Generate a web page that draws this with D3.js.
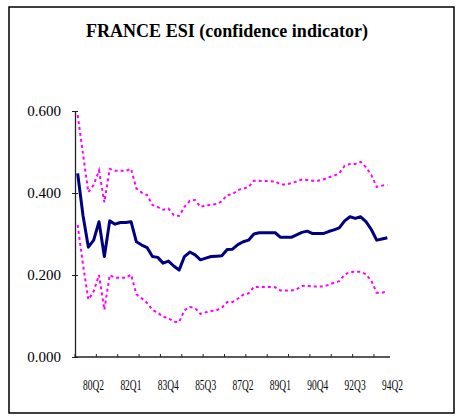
<!DOCTYPE html>
<html lang="en">
<head>
  <meta charset="UTF-8">
  <script src="https://d3js.org/d3.v7.min.js"></script>
  <title>FRANCE ESI (confidence indicator)</title>
  <style>
    body { margin: 0; background: #fff; }
    text { font-family: "Liberation Serif", "Times New Roman", serif; fill: #000; }
    .esi { fill: none; stroke: #000080; stroke-width: 3px; stroke-linejoin: round; }
    .band { fill: none; stroke: #ff00ff; stroke-width: 2px; stroke-dasharray: 3,3; }
  </style>
</head>
<body>
  <svg></svg>
  <script>
    const WIDTH = 456
    const HEIGHT = 418

    // quarters 80Q1 .. 94Q3
    const quarters = [
      '80Q1','80Q2','80Q3','80Q4','81Q1','81Q2','81Q3','81Q4','82Q1','82Q2','82Q3','82Q4',
      '83Q1','83Q2','83Q3','83Q4','84Q1','84Q2','84Q3','84Q4','85Q1','85Q2','85Q3','85Q4',
      '86Q1','86Q2','86Q3','86Q4','87Q1','87Q2','87Q3','87Q4','88Q1','88Q2','88Q3','88Q4',
      '89Q1','89Q2','89Q3','89Q4','90Q1','90Q2','90Q3','90Q4','91Q1','91Q2','91Q3','91Q4',
      '92Q1','92Q2','92Q3','92Q4','93Q1','93Q2','93Q3','93Q4','94Q1','94Q2','94Q3'
    ]
    const tickLabels = ['80Q2','82Q1','83Q4','85Q3','87Q2','89Q1','90Q4','92Q3','94Q2']
    const yTicks = [0, 0.2, 0.4, 0.6]

    const esi = [
      0.448, 0.345, 0.268, 0.285, 0.330, 0.245, 0.332, 0.324, 0.328, 0.328, 0.330, 0.281,
      0.273, 0.267, 0.245, 0.243, 0.229, 0.234, 0.222, 0.212, 0.245, 0.256, 0.249, 0.237,
      0.241, 0.245, 0.246, 0.247, 0.262, 0.263, 0.274, 0.281, 0.285, 0.300, 0.303, 0.303,
      0.303, 0.303, 0.292, 0.292, 0.292, 0.298, 0.304, 0.307, 0.301, 0.301, 0.301, 0.306,
      0.310, 0.315, 0.332, 0.342, 0.338, 0.342, 0.330, 0.311, 0.285, 0.288, 0.291
    ]
    const upper = [
      0.590, 0.495, 0.402, 0.420, 0.455, 0.377, 0.459, 0.454, 0.454, 0.454, 0.459, 0.411,
      0.401, 0.395, 0.371, 0.366, 0.359, 0.362, 0.346, 0.344, 0.366, 0.381, 0.383, 0.366,
      0.370, 0.371, 0.373, 0.380, 0.395, 0.397, 0.407, 0.411, 0.414, 0.430, 0.430, 0.429,
      0.429, 0.428, 0.421, 0.421, 0.424, 0.428, 0.433, 0.432, 0.430, 0.430, 0.433, 0.438,
      0.442, 0.448, 0.466, 0.471, 0.471, 0.476, 0.463, 0.444, 0.415, 0.418, 0.420
    ]
    const lower = [
      0.322, 0.225, 0.140, 0.160, 0.200, 0.115, 0.200, 0.193, 0.193, 0.193, 0.201, 0.153,
      0.143, 0.132, 0.115, 0.108, 0.098, 0.095, 0.086, 0.085, 0.114, 0.122, 0.119, 0.105,
      0.109, 0.112, 0.114, 0.120, 0.134, 0.134, 0.142, 0.152, 0.155, 0.171, 0.171, 0.171,
      0.171, 0.170, 0.162, 0.162, 0.162, 0.165, 0.173, 0.174, 0.172, 0.172, 0.172, 0.176,
      0.181, 0.185, 0.201, 0.207, 0.208, 0.208, 0.202, 0.186, 0.157, 0.157, 0.160
    ]

    const svg = d3.select('svg')
      .attr('width', WIDTH)
      .attr('height', HEIGHT)

    // outer frame
    svg.append('rect')
      .attr('x', 9).attr('y', 7)
      .attr('width', 445).attr('height', 406)
      .attr('fill', 'none')
      .attr('stroke', '#000')
      .attr('stroke-width', 1.5)

    svg.append('text')
      .attr('x', 227).attr('y', 37)
      .attr('text-anchor', 'middle')
      .attr('font-size', 19)
      .attr('font-weight', 'bold')
      .attr('textLength', 282)
      .attr('lengthAdjust', 'spacingAndGlyphs')
      .text('FRANCE ESI (confidence indicator)')

    const x = d3.scaleBand().domain(quarters).range([75, 390])
    const y = d3.scaleLinear().domain([0, 0.6]).range([357, 111])
    const cx = (q) => x(q) + x.bandwidth() / 2

    // y axis, ticks cross the line
    const yAxis = svg.append('g')
      .attr('transform', 'translate(75,0)')
      .call(d3.axisLeft(y)
        .tickValues(yTicks)
        .tickFormat(d3.format('.3f'))
        .tickSize(3)
        .tickSizeOuter(0)
        .tickPadding(11))
    yAxis.select('.domain').attr('stroke', '#222').attr('stroke-width', 1.3)
    yAxis.selectAll('.tick line').attr('x1', 3).attr('x2', -3).attr('stroke', '#222')
    yAxis.selectAll('.tick text')
      .attr('font-family', '"Liberation Serif", serif')
      .attr('font-size', 15)
      .attr('fill', '#000')

    // x axis line and tick marks every 4 quarters
    const xAxis = svg.append('g')
    xAxis.append('line')
      .attr('x1', 75).attr('x2', 390)
      .attr('y1', y(0)).attr('y2', y(0))
      .attr('stroke', '#222').attr('stroke-width', 1.3)
    xAxis.selectAll('.xtick')
      .data(quarters.filter((q, i) => i % 4 === 0))
      .enter().append('line')
      .attr('class', 'xtick')
      .attr('x1', (q) => x(q)).attr('x2', (q) => x(q))
      .attr('y1', y(0)).attr('y2', y(0) - 3)
      .attr('stroke', '#222')
    xAxis.selectAll('.xlabel')
      .data(tickLabels)
      .enter().append('text')
      .attr('class', 'xlabel')
      .attr('x', (q) => cx(q))
      .attr('y', 390)
      .attr('font-size', 14)
      .attr('textLength', 21)
      .attr('lengthAdjust', 'spacingAndGlyphs')
      .text((q) => q)

    const line = d3.line()
      .x((d, i) => cx(quarters[i]))
      .y((d) => y(d))

    svg.append('path').datum(upper).attr('class', 'band').attr('d', line)
    svg.append('path').datum(lower).attr('class', 'band').attr('d', line)
    svg.append('path').datum(esi).attr('class', 'esi').attr('d', line)
  </script>
</body>
</html>
